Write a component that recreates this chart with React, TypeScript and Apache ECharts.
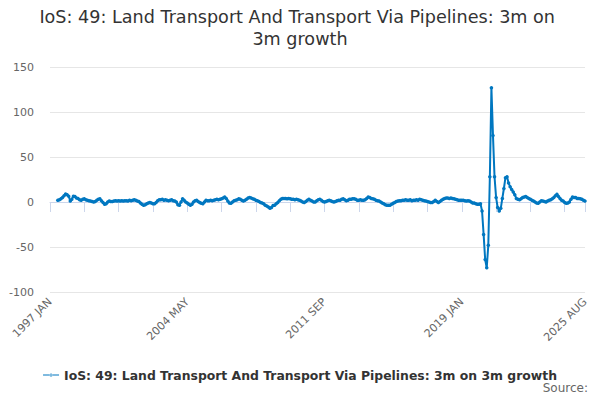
import React, { useEffect, useRef } from "react";
import * as echarts from "echarts";

const MONTHS = ["JAN", "FEB", "MAR", "APR", "MAY", "JUN", "JUL", "AUG", "SEP", "OCT", "NOV", "DEC"];
const FIRST_YEAR = 1997;
const LAST_YEAR = 2025;
const LAST_MONTH_COUNT = 8;

const categories: string[] = [];
for (let y = FIRST_YEAR; y <= LAST_YEAR; y++) {
  const n = y === LAST_YEAR ? LAST_MONTH_COUNT : 12;
  for (let m = 0; m < n; m++) categories.push(`${y} ${MONTHS[m]}`);
}

const values: (number | null)[] = [
  // 1997
  null, null, null, null, null, 2, 2.5, 3.5, 5, 7, 9, 8,
  // 1998
  6.5, 1, 3, 6.5, 6, 4.5, 4, 2.5, 2, 3, 3.5, 2.5,
  // 1999
  2, 1.5, 1, 0.5, 0, 0.5, 2, 3, 3.5, 1.5, -0.5, -2.5,
  // 2000
  -2, 0, 1, 0.5, 0.5, 1, 1.5, 1, 1.5, 1, 1.5, 1,
  // 2001
  1.5, 1.5, 1, 2, 1.5, 2, 2.5, 2, 1, 0.5, -1, -2.5,
  // 2002
  -3.5, -3, -2, -1, -0.5, -1, -2, -2, -0.5, 1.5, 2.5, 2.5,
  // 2003
  3, 2, 2.5, 2, 1.5, 2, 2.5, 1.5, 1, 0, -3, -3.5,
  // 2004
  0, 3.5, 2, 0, -1, -2.5, -3.5, -2.5, 0, 1.5, 2, 0.5,
  // 2005
  -0.5, -1.5, -2, 0, 2, 1.5, 1.5, 2, 1.5, 2, 2.5, 3,
  // 2006
  2.5, 3, 3.5, 4.5, 5.5, 4, 1, -1, -1.5, 0, 1.5, 2,
  // 2007
  2.5, 3.5, 3, 2, 1, 2, 3, 4.5, 5, 4.5, 3.5, 3,
  // 2008
  2, 1.5, 0.5, -0.5, -1, -2, -3.5, -4.5, -5.5, -7, -6, -4,
  // 2009
  -3.5, -2, -0.5, 1.5, 3, 4, 4, 4, 3.5, 4, 3.5, 3,
  // 2010
  3, 2.5, 3, 2.5, 2, 1, 0, -0.5, 0.5, 2, 3, 2,
  // 2011
  1, 0, 0, 1.5, 2.5, 3, 2, 0.5, 0, 0.5, 1.5, 2,
  // 2012
  1.5, 0.5, 0, 0.5, 1.5, 2, 2, 3, 3.5, 2.5, 1.5, 2,
  // 2013
  3, 3, 3.5, 3.5, 3, 2, 2, 2.5, 2, 2, 2.5, 4,
  // 2014
  5.5, 5, 4, 3.5, 3, 2, 1.5, 1, 0, -1, -2, -3,
  // 2015
  -3.5, -3.5, -3.5, -2.5, -1.5, -0.5, 0.5, 1, 1.5, 1.5, 2, 2,
  // 2016
  2.5, 2, 2, 2.5, 1.5, 2, 2, 2.5, 2, 3, 2.5, 2,
  // 2017
  1.5, 1, 0.5, 0, -0.5, -0.5, 0.5, 2, 0.5, -0.5, 0.5, 2,
  // 2018
  3, 4, 4.5, 4.5, 4, 4.5, 4, 3.5, 3, 2.5, 2, 2,
  // 2019
  2, 2, 1.5, 1, 1.5, 1, 0, -1, -1, -2, -2.5, -2.5,
  // 2020
  -2, -10, -36, -64, -73, -48, 28, 127, 74, 28, 5, -6,
  // 2021
  -10, -7, 4, 15, 27, 28, 21, 17, 14, 11, 8, 4,
  // 2022
  3, 2.5, 3.5, 5, 5.5, 6, 5, 4, 3, 2, 1, 0,
  // 2023
  -1, -1.5, 0, 1.5, 1, 0.5, 0, 1, 2, 2.5, 3.5, 5,
  // 2024
  7, 8.5, 6, 4, 2, 1, -0.5, -1.5, -1, 0, 3, 5.5,
  // 2025
  5, 5, 4, 4, 3.5, 3, 2, 1,
];

const SERIES_NAME = "IoS: 49: Land Transport And Transport Via Pipelines: 3m on 3m growth";
const TITLE = "IoS: 49: Land Transport And Transport Via Pipelines: 3m on 3m growth";
const Y_MIN = -100;
const Y_MAX = 150;
const Y_INTERVAL = 50;
const LABEL_STEP = 88;
const TICK_STEP = 22;

export default function App() {
  const ref = useRef<HTMLDivElement>(null);
  useEffect(() => {
    if (!ref.current) return;
    const chart = echarts.init(ref.current, null, { renderer: "svg" });
    const last = categories.length - 1;
    const font = "DejaVu Sans";
    chart.setOption({
      animation: false,
      title: {
        text: TITLE,
        left: "center",
        top: 1,
        textStyle: {
          fontFamily: font,
          fontSize: 17.6,
          fontWeight: "normal",
          color: "#333",
          width: 540,
          overflow: "break",
          lineHeight: 22,
        },
      },
      legend: {
        bottom: 14,
        left: "center",
        itemWidth: 16,
        itemHeight: 8,
        itemGap: 10,
        textStyle: { fontFamily: font, fontSize: 12.4, fontWeight: "bold", color: "#333" },
        data: [{ name: SERIES_NAME, icon: "path://M0,3.5 L16,3.5 L16,4.5 L0,4.5 Z M6.5,4 A1.5,1.5 0 1 0 9.5,4 A1.5,1.5 0 1 0 6.5,4 Z" }],
      },
      graphic: [
        {
          type: "text",
          right: 12,
          top: 382,
          style: { text: "Source:", fontFamily: font, fontSize: 12, fill: "#666" },
        },
      ],
      grid: { left: 50, right: 15, top: 67, bottom: 108, containLabel: false },
      xAxis: {
        type: "category",
        data: categories,
        boundaryGap: false,
        axisLine: { lineStyle: { color: "#ccd6eb" } },
        axisTick: {
          lineStyle: { color: "#ccd6eb" },
          length: 10,
          interval: (i: number) => i % TICK_STEP === 0 || i === last,
        },
        axisLabel: {
          interval: (i: number) => i % LABEL_STEP === 0 || i === last,
          rotate: 45,
          fontFamily: font,
          fontSize: 11,
          color: "#666",
          margin: 8,
        },
        splitLine: { show: false },
      },
      yAxis: {
        type: "value",
        min: Y_MIN,
        max: Y_MAX,
        interval: Y_INTERVAL,
        axisLine: { show: false },
        axisTick: { show: false },
        axisLabel: { fontFamily: font, fontSize: 11, color: "#666", margin: 16 },
        splitLine: { lineStyle: { color: "#e6e6e6" } },
      },
      series: [
        {
          name: SERIES_NAME,
          type: "line",
          data: values,
          symbol: "circle",
          symbolSize: 3.5,
          showSymbol: true,
          showAllSymbol: true,
          lineStyle: { color: "#0077c0", width: 2 },
          itemStyle: { color: "#0077c0" },
        },
      ],
    });
    return () => chart.dispose();
  }, []);
  return <div ref={ref} style={{ width: 600, height: 400, margin: -8 }} />;
}
